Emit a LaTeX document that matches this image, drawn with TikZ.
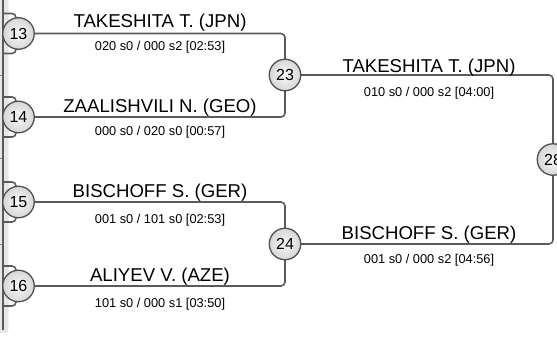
\documentclass[tikz,border=0pt]{standalone}
\usepackage{fontspec}
\setmainfont{Liberation Sans}
\definecolor{linec}{HTML}{5A5A5A}
\definecolor{circb}{HTML}{505050}
\definecolor{bandc}{HTML}{E6E6E6}
\begin{document}
\begin{tikzpicture}[x=1pt,y=-1pt,
  conn/.style={draw=linec, line width=1.6pt, rounded corners=4pt},
  seed/.style={circle, draw=circb, line width=1.3pt, inner color=gray!5, outer color=gray!32,
    minimum size=31.5pt, inner sep=0pt, font=\fontsize{16}{16}\selectfont},
  pname/.style={anchor=base, inner sep=0pt, font=\fontsize{18.6}{20}\selectfont},
  pscore/.style={anchor=base, inner sep=0pt, font=\fontsize{12.8}{14}\selectfont}]
\useasboundingbox (0,0) rectangle (557,340);
\clip (0,0) rectangle (557,340);
% left panel
\fill[bandc, rounded corners=4pt] (-10,-10) rectangle (8.5,333);
\draw[linec, line width=1.5pt] (2.8,-2) -- (2.8,330);
\draw[linec!70, line width=1pt] (0,75) -- (1.5,75) (0,158) -- (1.5,158) (0,244) -- (1.5,244);
% free ends of previous round
\coordinate (p13a) at (2.8,13.5);  \coordinate (p13b) at (2.8,53.5);
\coordinate (p14a) at (2.8,97);    \coordinate (p14b) at (2.8,137);
\coordinate (p15a) at (2.8,182);   \coordinate (p15b) at (2.8,222);
\coordinate (p16a) at (2.8,266);   \coordinate (p16b) at (2.8,306);
% connectors (drawn first, circles on top)
\coordinate (k13) at (16,33.5); \coordinate (k14) at (16,117);
\coordinate (k15) at (16,202);  \coordinate (k16) at (16,286);
\foreach \s in {13,14,15,16}{
  \draw[conn] (p\s a) -| (k\s);
  \draw[conn] (p\s b) -| (k\s);
}
\coordinate (k23) at (285,75); \coordinate (k24) at (285,244); \coordinate (k28) at (553,159.5);
\coordinate (s13) at (18.5,33.5); \coordinate (s14) at (18.5,117);
\coordinate (s15) at (18.5,202);  \coordinate (s16) at (18.5,286);
\draw[conn] (s13) -| (k23);
\draw[conn] (s14) -| (k23);
\draw[conn] (s15) -| (k24);
\draw[conn] (s16) -| (k24);
\draw[conn] (k23) -| (k28);
\draw[conn] (k24) -| (k28);
% seeds
\node[seed] (c13) at (s13) {13};
\node[seed] (c14) at (s14) {14};
\node[seed] (c15) at (s15) {15};
\node[seed] (c16) at (s16) {16};
\node[seed] (c23) at (k23) {23};
\node[seed] (c24) at (k24) {24};
\node[seed] (c28) at (k28) {28};
% names and scores, round 1
\node[pname]  (n13) at (160,27.5)  {TAKESHITA T. (JPN)};
\node[pscore] (r13) at (160,50)  {020 s0 / 000 s2 [02:53]};
\node[pname]  (n14) at (160,112.5) {ZAALISHVILI N. (GEO)};
\node[pscore] (r14) at (160,135) {000 s0 / 020 s0 [00:57]};
\node[pname]  (n15) at (160,197) {BISCHOFF S. (GER)};
\node[pscore] (r15) at (160,223) {001 s0 / 101 s0 [02:53]};
\node[pname]  (n16) at (160,281.5) {ALIYEV V. (AZE)};
\node[pscore] (r16) at (160,307) {101 s0 / 000 s1 [03:50]};
% round 2
\node[pname]  (n23) at (429,72.5)  {TAKESHITA T. (JPN)};
\node[pscore] (r23) at (429,96)  {010 s0 / 000 s2 [04:00]};
\node[pname]  (n24) at (429,239.5) {BISCHOFF S. (GER)};
\node[pscore] (r24) at (429,263) {001 s0 / 000 s2 [04:56]};
\end{tikzpicture}
\end{document}
